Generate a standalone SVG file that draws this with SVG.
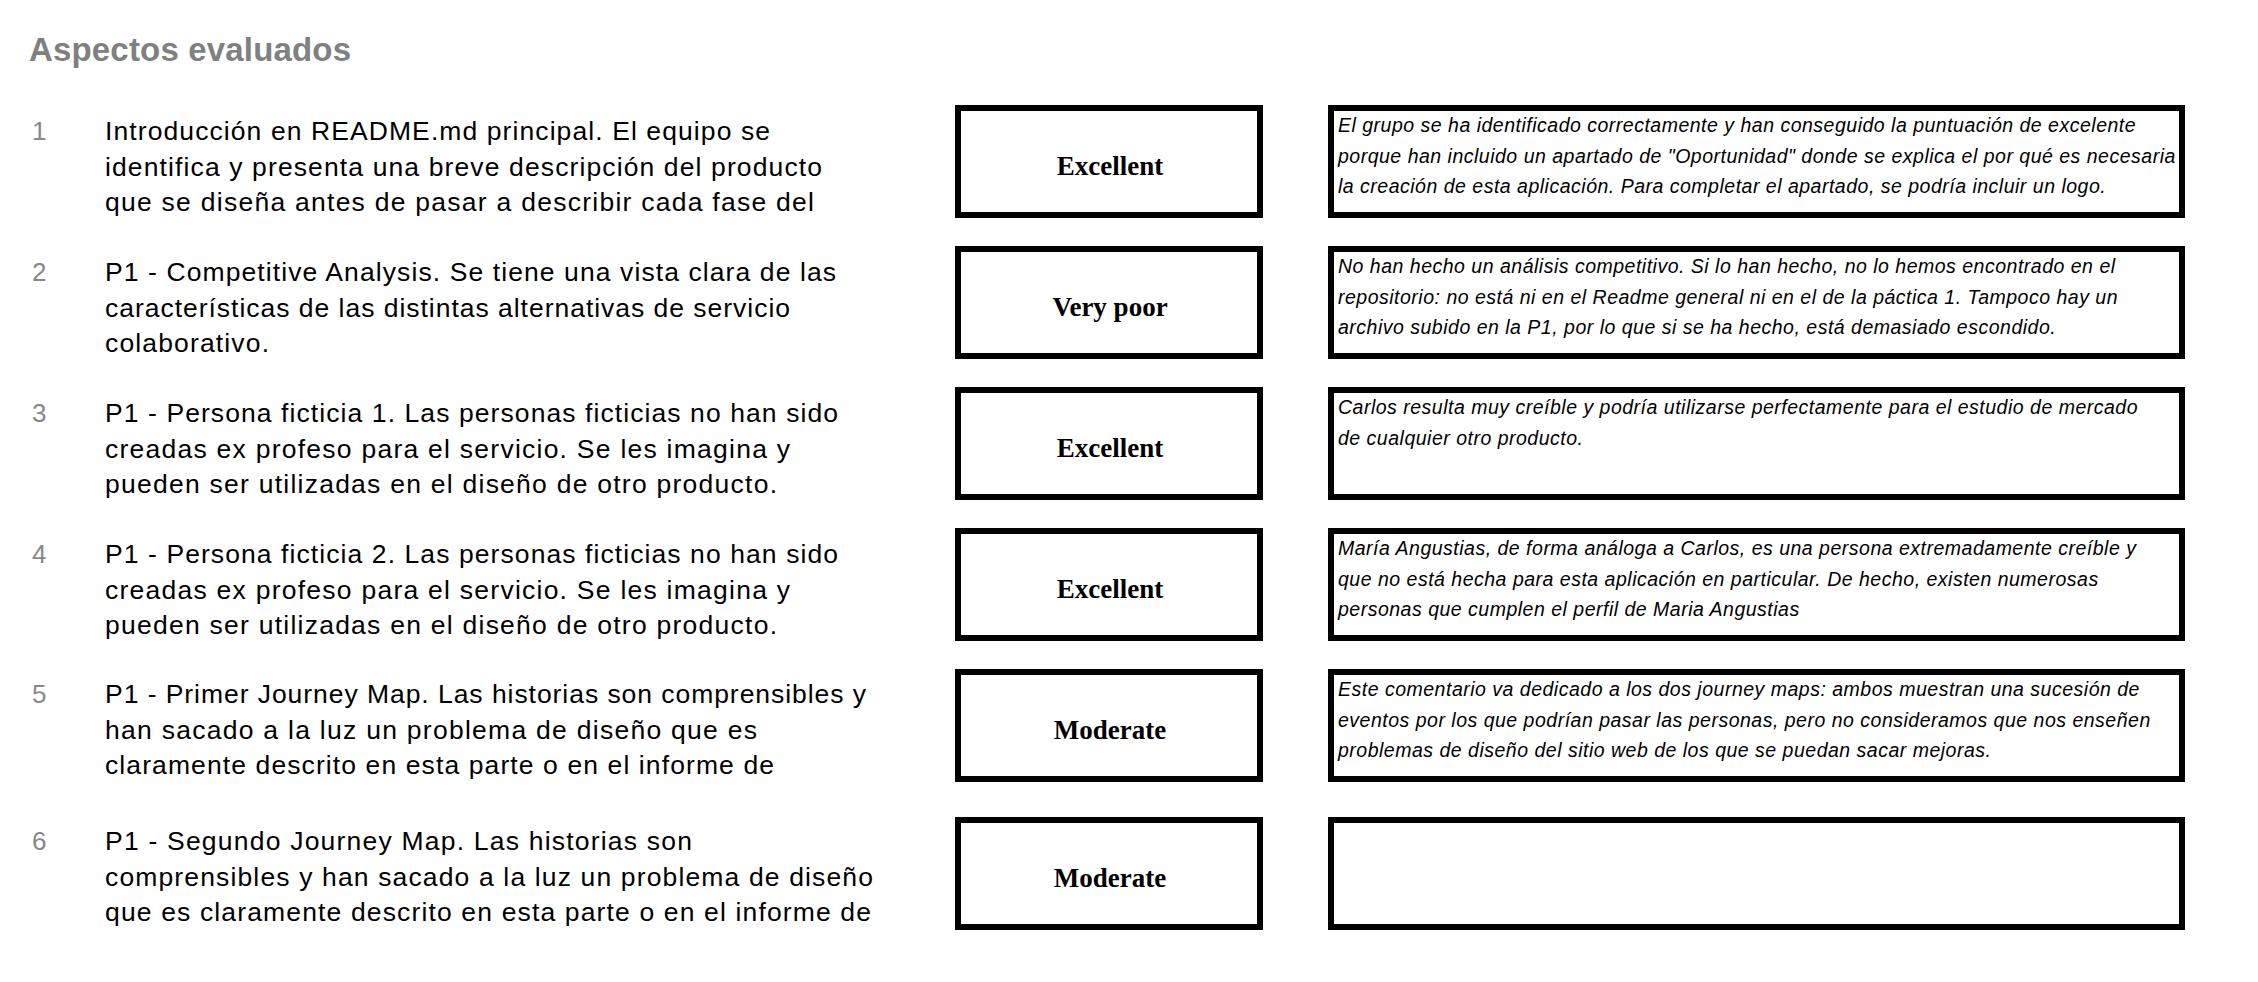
<svg xmlns="http://www.w3.org/2000/svg" width="2258" height="982" viewBox="0 0 2258 982">
<style>
.title{font-family:"Liberation Sans",Arial,sans-serif;font-weight:bold;font-size:33px;fill:#808080}
.num{font-family:"Liberation Sans",Arial,sans-serif;font-size:26px;fill:#888888}
.item{font-family:"Liberation Sans",Arial,sans-serif;font-size:26.5px;fill:#000}
.box{fill:#fff;stroke:#000;stroke-width:6}
.grade{font-family:"Liberation Serif","Times New Roman",serif;font-weight:bold;font-size:27px;fill:#000;text-anchor:middle}
.cmt{font-family:"Liberation Sans",Arial,sans-serif;font-style:italic;font-size:19.5px;letter-spacing:0.5px;fill:#000}
</style>
<rect x="0" y="0" width="2258" height="982" fill="#fff"/>
<text class="title" x="29" y="61" textLength="322" lengthAdjust="spacing">Aspectos evaluados</text>
<g id="connectors"/>

<g id="row1">
<text class="num" x="32" y="140">1</text>
<text class="item" x="105" y="140" textLength="665" lengthAdjust="spacing">Introducción en README.md principal. El equipo se</text>
<text class="item" x="105" y="175.5" textLength="717" lengthAdjust="spacing">identifica y presenta una breve descripción del producto</text>
<text class="item" x="105" y="211" textLength="709" lengthAdjust="spacing">que se diseña antes de pasar a describir cada fase del</text>
<rect class="box" x="958" y="108" width="302" height="107"/>
<text class="grade" x="1110" y="175">Excellent</text>
<rect class="box" x="1331" y="108" width="851" height="107"/>
<text class="cmt" x="1338" y="132">El grupo se ha identificado correctamente y han conseguido la puntuación de excelente</text>
<text class="cmt" x="1338" y="162.5">porque han incluido un apartado de "Oportunidad" donde se explica el por qué es necesaria</text>
<text class="cmt" x="1338" y="193">la creación de esta aplicación. Para completar el apartado, se podría incluir un logo.</text>
</g>

<g id="row2">
<text class="num" x="32" y="281">2</text>
<text class="item" x="105" y="281" textLength="731" lengthAdjust="spacing">P1 - Competitive Analysis. Se tiene una vista clara de las</text>
<text class="item" x="105" y="316.5" textLength="685" lengthAdjust="spacing">características de las distintas alternativas de servicio</text>
<text class="item" x="105" y="352" textLength="164" lengthAdjust="spacing">colaborativo.</text>
<rect class="box" x="958" y="249" width="302" height="107"/>
<text class="grade" x="1110" y="316">Very poor</text>
<rect class="box" x="1331" y="249" width="851" height="107"/>
<text class="cmt" x="1338" y="273">No han hecho un análisis competitivo. Si lo han hecho, no lo hemos encontrado en el</text>
<text class="cmt" x="1338" y="303.5">repositorio: no está ni en el Readme general ni en el de la páctica 1. Tampoco hay un</text>
<text class="cmt" x="1338" y="334">archivo subido en la P1, por lo que si se ha hecho, está demasiado escondido.</text>
</g>

<g id="row3">
<text class="num" x="32" y="422">3</text>
<text class="item" x="105" y="422" textLength="733" lengthAdjust="spacing">P1 - Persona ficticia 1. Las personas ficticias no han sido</text>
<text class="item" x="105" y="457.5" textLength="685" lengthAdjust="spacing">creadas ex profeso para el servicio. Se les imagina y</text>
<text class="item" x="105" y="493" textLength="672" lengthAdjust="spacing">pueden ser utilizadas en el diseño de otro producto.</text>
<rect class="box" x="958" y="390" width="302" height="107"/>
<text class="grade" x="1110" y="457">Excellent</text>
<rect class="box" x="1331" y="390" width="851" height="107"/>
<text class="cmt" x="1338" y="414">Carlos resulta muy creíble y podría utilizarse perfectamente para el estudio de mercado</text>
<text class="cmt" x="1338" y="444.5">de cualquier otro producto.</text>
</g>

<g id="row4">
<text class="num" x="32" y="563">4</text>
<text class="item" x="105" y="563" textLength="733" lengthAdjust="spacing">P1 - Persona ficticia 2. Las personas ficticias no han sido</text>
<text class="item" x="105" y="598.5" textLength="685" lengthAdjust="spacing">creadas ex profeso para el servicio. Se les imagina y</text>
<text class="item" x="105" y="634" textLength="672" lengthAdjust="spacing">pueden ser utilizadas en el diseño de otro producto.</text>
<rect class="box" x="958" y="531" width="302" height="107"/>
<text class="grade" x="1110" y="598">Excellent</text>
<rect class="box" x="1331" y="531" width="851" height="107"/>
<text class="cmt" x="1338" y="555">María Angustias, de forma análoga a Carlos, es una persona extremadamente creíble y</text>
<text class="cmt" x="1338" y="585.5">que no está hecha para esta aplicación en particular. De hecho, existen numerosas</text>
<text class="cmt" x="1338" y="616">personas que cumplen el perfil de Maria Angustias</text>
</g>

<g id="row5">
<text class="num" x="32" y="703">5</text>
<text class="item" x="105" y="703" textLength="761" lengthAdjust="spacing">P1 - Primer Journey Map. Las historias son comprensibles y</text>
<text class="item" x="105" y="738.5" textLength="652" lengthAdjust="spacing">han sacado a la luz un problema de diseño que es</text>
<text class="item" x="105" y="774" textLength="669" lengthAdjust="spacing">claramente descrito en esta parte o en el informe de</text>
<rect class="box" x="958" y="672" width="302" height="107"/>
<text class="grade" x="1110" y="739">Moderate</text>
<rect class="box" x="1331" y="672" width="851" height="107"/>
<text class="cmt" x="1338" y="696">Este comentario va dedicado a los dos journey maps: ambos muestran una sucesión de</text>
<text class="cmt" x="1338" y="726.5">eventos por los que podrían pasar las personas, pero no consideramos que nos enseñen</text>
<text class="cmt" x="1338" y="757">problemas de diseño del sitio web de los que se puedan sacar mejoras.</text>
</g>

<g id="row6">
<text class="num" x="32" y="850">6</text>
<text class="item" x="105" y="850" textLength="587" lengthAdjust="spacing">P1 - Segundo Journey Map. Las historias son</text>
<text class="item" x="105" y="885.5" textLength="768" lengthAdjust="spacing">comprensibles y han sacado a la luz un problema de diseño</text>
<text class="item" x="105" y="921" textLength="766" lengthAdjust="spacing">que es claramente descrito en esta parte o en el informe de</text>
<rect class="box" x="958" y="820" width="302" height="107"/>
<text class="grade" x="1110" y="887">Moderate</text>
<rect class="box" x="1331" y="820" width="851" height="107"/>
</g>
</svg>
